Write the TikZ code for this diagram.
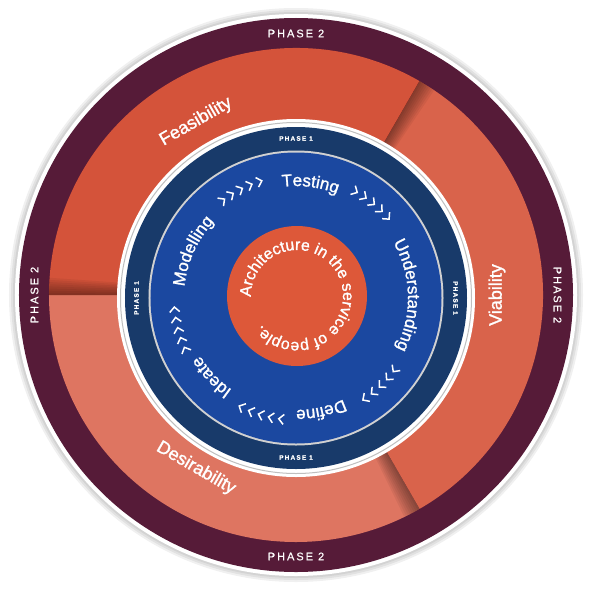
\documentclass[tikz,border=0pt]{standalone}
\usepackage{fontspec}
\setmainfont{Liberation Sans}
\newfontfamily\heavyfont[FakeBold=1.3]{Liberation Sans}
\newfontfamily\spacedfont[LetterSpace=18,FakeBold=0.6]{Liberation Sans}
\usetikzlibrary{decorations.text}

\definecolor{maroon}{HTML}{561B38}
\definecolor{feascol}{HTML}{D4533A}
\definecolor{viabcol}{HTML}{D9634B}
\definecolor{desircol}{HTML}{DE7561}
\definecolor{navyring}{HTML}{183A6A}
\definecolor{innerblue}{HTML}{1B48A0}
\definecolor{coreorange}{HTML}{DD5839}

\newcommand\ringfont{\heavyfont\fontsize{17}{17}\selectfont}
\newcommand\corefont{\heavyfont\fontsize{16}{16}\selectfont}

% text on a clockwise arc: radius, centre angle, half width, text
\newcommand\arctext[4]{%
  \path[decorate,decoration={text along path,text align=center,
      text color=white,text={#4}}]
    ({#2+#3}:#1pt) arc[start angle={#2+#3},end angle={#2-#3},radius=#1pt];}

% five chevrons pointing clockwise round an angle
\newcommand\chevrons[1]{%
  \foreach \k in {-2,...,2}{
    \begin{scope}[shift={({#1+4.9*\k}:122pt)},rotate={#1+4.9*\k}]
      \draw[chev] (5,3) -- (0,-2) -- (-5,3);
    \end{scope}}}

\begin{document}
\begin{tikzpicture}[x=1pt,y=1pt,
    ph2/.style={text=white,inner sep=0pt,font=\spacedfont\fontsize{11}{11}\selectfont},
    ph1/.style={text=white,inner sep=0pt,font=\spacedfont\bfseries\fontsize{6.5}{6.5}\selectfont},
    word/.style={text=white,inner sep=0pt,font=\heavyfont\fontsize{18}{18}\selectfont},
    chev/.style={white,line width=1.5pt,line join=miter}]
  \useasboundingbox (-296,-297) rectangle (297,295);
  \fill[white] (-296,-297) rectangle (297,295);
  \coordinate (c) at (0,0);
  \coordinate (p1) at (0,-3);
  \coordinate (core) at (1,-1);

  % outer ring
  \foreach \r in {287,285,283}
    \fill[black,opacity=.06] (c) circle[radius=\r pt];
  \fill[white] (c) circle[radius=281pt];
  \fill[maroon] (c) circle[radius=277pt];

  % phase 2 sectors
  \fill[viabcol] (c) -- (-60:247pt) arc[start angle=-60,end angle=60,radius=247pt] -- cycle;
  \fill[feascol] (c) -- (60:247pt) arc[start angle=60,end angle=180,radius=247pt] -- cycle;
  \fill[desircol] (c) -- (180:247pt) arc[start angle=180,end angle=300,radius=247pt] -- cycle;
  \foreach \b in {60,180,300}
    \foreach \k in {0.5,1,...,4}
      \fill[black,opacity=.055] (c) -- (\b:247pt) arc[start angle=\b,end angle=\b-\k,radius=247pt] -- cycle;

  \node[ph2] (ph2n) at (90:261.5pt) {PHASE 2};
  \node[ph2,rotate=-90] (ph2e) at (0:261.5pt) {PHASE 2};
  \node[ph2] (ph2s) at (-90:261.5pt) {PHASE 2};
  \node[ph2,rotate=90] (ph2w) at (180:261.5pt) {PHASE 2};

  \node[word,rotate=30] (feas) at (120:200pt) {Feasibility};
  \node[word,rotate=90] (viab) at (0:201pt) {Viability};
  \node[word,rotate=-30] (desir) at (240:200pt) {Desirability};

  % phase 1 disc
  \begin{scope}[shift={(p1)}]
    \fill[white] (0,0) circle[radius=179pt];
    \draw[black!25,line width=1pt] (0,0) circle[radius=175.5pt];
    \fill[navyring] (0,0) circle[radius=171pt];
    \fill[black!18] (0,0) circle[radius=147.5pt];
    \fill[innerblue] (0,0) circle[radius=145.5pt];

    \node[ph1] (ph1n) at (90:159.5pt) {PHASE 1};
    \node[ph1,rotate=-90] (ph1e) at (0:159.5pt) {PHASE 1};
    \node[ph1] (ph1s) at (-90:159.5pt) {PHASE 1};
    \node[ph1,rotate=90] (ph1w) at (180:159.5pt) {PHASE 1};

    \arctext{112}{155.6}{40}{|\ringfont|Modelling}
    \arctext{112}{82.8}{40}{|\ringfont|Testing}
    \arctext{112}{1.5}{45}{|\ringfont|Understanding}
    \arctext{112}{-77.4}{40}{|\ringfont|Define}
    \arctext{112}{-136.9}{40}{|\ringfont|Ideate}

    \chevrons{117}
    \chevrons{51}
    \chevrons{-46}
    \chevrons{-107}
    \chevrons{-165}
  \end{scope}

  % centre
  \begin{scope}[shift={(core)}]
    \fill[coreorange] (0,0) circle[radius=70pt];
    \arctext{46}{20}{180}{|\corefont|Architecture in the service of people.}
  \end{scope}
\end{tikzpicture}
\end{document}
